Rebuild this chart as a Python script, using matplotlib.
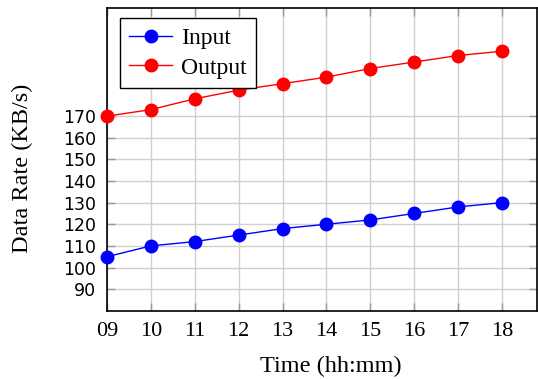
import matplotlib.pyplot as plt

# data
hours = [9, 10, 11, 12, 13, 14, 15, 16, 17, 18]
hour_labels = ["09", "10", "11", "12", "13", "14", "15", "16", "17", "18"]
input_rate = [105, 110, 112, 115, 118, 120, 122, 125, 128, 130]
output_rate = [170, 173, 178, 182, 185, 188, 192, 195, 198, 200]
y_ticks = [90, 100, 110, 120, 130, 140, 150, 160, 170]

serif = "Liberation Serif"

fig = plt.figure(figsize=(5.38, 3.79), dpi=100)
ax = fig.add_axes([0.199, 0.180, 0.799, 0.799])

ax.plot(hours, input_rate, color="#0000ff", marker="o", markersize=9,
        linewidth=1, label="Input", clip_on=False, zorder=3)
ax.plot(hours, output_rate, color="#ff0000", marker="o", markersize=9,
        linewidth=1, label="Output", clip_on=False, zorder=3)

ax.set_xlim(9, 18.8)
ax.set_ylim(80, 220)
ax.set_xticks(hours)
ax.set_xticklabels(hour_labels, fontfamily=serif, fontsize=16)
ax.set_yticks(y_ticks)
ax.tick_params(axis="y", labelsize=12.5)
ax.tick_params(direction="in", top=True, right=True, length=6,
               color="#999999", width=1, pad=8)

ax.grid(True, color="#d0d0d0", linewidth=1)
ax.set_axisbelow(True)
for s in ax.spines.values():
    s.set_linewidth(1.2)

ax.set_xlabel("Time (hh:mm)", fontfamily=serif, fontsize=17.5)
ax.xaxis.set_label_coords(0.52, -0.15)
ax.set_ylabel("Data Rate (KB/s)", fontfamily=serif, fontsize=17.5)
ax.yaxis.set_label_coords(-0.172, 0.47)

leg = ax.legend(loc="upper left", bbox_to_anchor=(0.03, 0.967),
                prop={"family": serif, "size": 17}, fancybox=False,
                framealpha=1, edgecolor="black", handlelength=1.8,
                borderpad=0.4, labelspacing=0.35, handletextpad=0.4,
                borderaxespad=0)
leg.get_frame().set_linewidth(1)

fig.savefig("out.png", dpi=100)
